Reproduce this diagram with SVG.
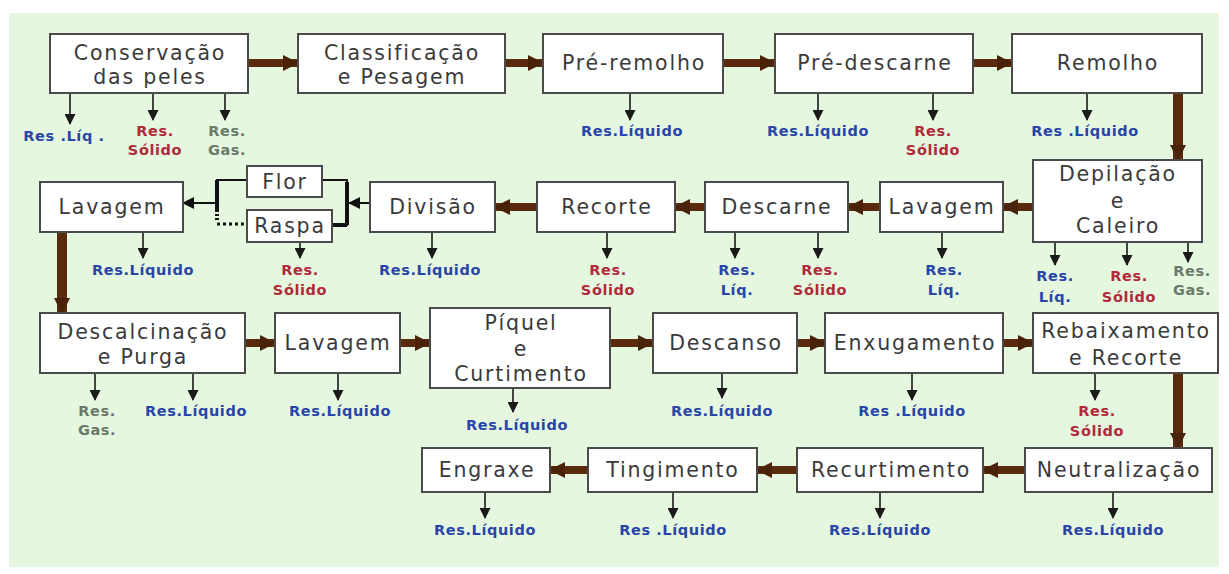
<svg xmlns="http://www.w3.org/2000/svg" width="1229" height="574" viewBox="0 0 1229 574">
<defs>
<marker id="sm" markerUnits="userSpaceOnUse" markerWidth="11" markerHeight="11" refX="10" refY="5.5" orient="auto"><path d="M0,0 L11,5.5 L0,11 z" fill="#1a1a1a"/></marker>
<marker id="br" markerUnits="userSpaceOnUse" markerWidth="16" markerHeight="16" refX="15" refY="8" orient="auto"><path d="M0,0 L16,8 L0,16 z" fill="#4a2208"/></marker>
<marker id="bk" markerUnits="userSpaceOnUse" markerWidth="12" markerHeight="12" refX="11" refY="6" orient="auto"><path d="M0,0 L12,6 L0,12 z" fill="#111"/></marker>
<style>
.box{fill:#fff;stroke:#4a4a4a;stroke-width:2}
.t{font-family:"DejaVu Sans",sans-serif;font-size:20.5px;fill:#3a3a3a;text-anchor:middle;letter-spacing:1.8px}
.lb{font-family:"DejaVu Sans",sans-serif;font-size:14.5px;font-weight:bold;text-anchor:middle;letter-spacing:0.6px}
.b{fill:#2a45a8}.r{fill:#b02a3a}.g{fill:#6a7a6a}
.flow{stroke:#5a2a0c;stroke-width:8;fill:none;marker-end:url(#br)}
.vflow{stroke:#5a2a0c;stroke-width:10;fill:none;marker-end:url(#br)}
.drop{stroke:#1a1a1a;stroke-width:1.6;fill:none;marker-end:url(#sm)}
.k{stroke:#111;stroke-width:2;fill:none}
</style>
</defs>
<rect x="9" y="13" width="1210" height="554" fill="#e5f7df"/>

<g id="connectors">
<line class="flow" x1="248" y1="63" x2="298" y2="63"/>
<line class="flow" x1="505" y1="63" x2="543" y2="63"/>
<line class="flow" x1="723" y1="63" x2="775" y2="63"/>
<line class="flow" x1="973" y1="63" x2="1012" y2="63"/>
<line class="vflow" x1="1178" y1="93" x2="1178" y2="160"/>
<line class="flow" x1="1033" y1="207" x2="1003" y2="207"/>
<line class="flow" x1="880" y1="207" x2="848" y2="207"/>
<line class="flow" x1="705" y1="207" x2="675" y2="207"/>
<line class="flow" x1="537" y1="207" x2="495" y2="207"/>
<line class="vflow" x1="62" y1="232" x2="62" y2="313"/>
<polyline class="k" points="322,180 347,180 347,225 332,225"/>
<line x1="347" y1="182" x2="347" y2="225" stroke="#111" stroke-width="4"/>
<line x1="332" y1="225" x2="347" y2="225" stroke="#111" stroke-width="4"/>
<line class="k" x1="370" y1="203" x2="349" y2="203" marker-end="url(#bk)"/>
<polyline class="k" points="247,180 217,180 217,212"/>
<line x1="217" y1="180" x2="217" y2="210" stroke="#111" stroke-width="4"/>
<line x1="217" y1="210" x2="217" y2="222" stroke="#111" stroke-width="4" stroke-dasharray="2,2"/>
<line x1="217" y1="224" x2="247" y2="224" stroke="#111" stroke-width="3" stroke-dasharray="3,3"/>
<line class="k" x1="215" y1="203" x2="183" y2="203" marker-end="url(#bk)"/>
<line class="flow" x1="245" y1="343" x2="275" y2="343"/>
<line class="flow" x1="400" y1="343" x2="430" y2="343"/>
<line class="flow" x1="610" y1="343" x2="653" y2="343"/>
<line class="flow" x1="797" y1="343" x2="825" y2="343"/>
<line class="flow" x1="1003" y1="343" x2="1033" y2="343"/>
<line class="vflow" x1="1178" y1="373" x2="1178" y2="448"/>
<line class="flow" x1="1025" y1="470" x2="983" y2="470"/>
<line class="flow" x1="797" y1="470" x2="757" y2="470"/>
<line class="flow" x1="588" y1="470" x2="550" y2="470"/>
<line class="drop" x1="70" y1="93" x2="70" y2="124"/>
<line class="drop" x1="153" y1="93" x2="153" y2="120"/>
<line class="drop" x1="225" y1="93" x2="225" y2="120"/>
<line class="drop" x1="630" y1="93" x2="630" y2="120"/>
<line class="drop" x1="818" y1="93" x2="818" y2="120"/>
<line class="drop" x1="933" y1="93" x2="933" y2="120"/>
<line class="drop" x1="1087" y1="93" x2="1087" y2="120"/>
<line class="drop" x1="143" y1="232" x2="143" y2="258"/>
<line class="drop" x1="300" y1="242" x2="300" y2="258"/>
<line class="drop" x1="432" y1="232" x2="432" y2="258"/>
<line class="drop" x1="607" y1="232" x2="607" y2="258"/>
<line class="drop" x1="735" y1="232" x2="735" y2="258"/>
<line class="drop" x1="818" y1="232" x2="818" y2="258"/>
<line class="drop" x1="942" y1="232" x2="942" y2="258"/>
<line class="drop" x1="1055" y1="242" x2="1055" y2="265"/>
<line class="drop" x1="1127" y1="242" x2="1127" y2="265"/>
<line class="drop" x1="1188" y1="242" x2="1188" y2="262"/>
<line class="drop" x1="95" y1="373" x2="95" y2="400"/>
<line class="drop" x1="193" y1="373" x2="193" y2="400"/>
<line class="drop" x1="338" y1="373" x2="338" y2="400"/>
<line class="drop" x1="513" y1="388" x2="513" y2="412"/>
<line class="drop" x1="722" y1="373" x2="722" y2="398"/>
<line class="drop" x1="912" y1="373" x2="912" y2="400"/>
<line class="drop" x1="1095" y1="373" x2="1095" y2="400"/>
<line class="drop" x1="485" y1="492" x2="485" y2="518"/>
<line class="drop" x1="673" y1="492" x2="673" y2="518"/>
<line class="drop" x1="880" y1="492" x2="880" y2="518"/>
<line class="drop" x1="1113" y1="492" x2="1113" y2="518"/>
</g>

<g id="n-conservacao"><rect class="box" x="50" y="34" width="198" height="59"/><text class="t" x="150" y="60">Conservação</text><text class="t" x="150" y="84">das peles</text>
<text class="lb b" x="64" y="141">Res .Líq .</text><text class="lb r" x="155" y="136">Res.</text><text class="lb r" x="155" y="155">Sólido</text><text class="lb g" x="227" y="136">Res.</text><text class="lb g" x="227" y="155">Gas.</text></g>
<g id="n-classificacao"><rect class="box" x="298" y="34" width="207" height="59"/><text class="t" x="402" y="60">Classificação</text><text class="t" x="402" y="84">e Pesagem</text></g>
<g id="n-preremolho"><rect class="box" x="543" y="34" width="180" height="59"/><text class="t" x="634" y="70">Pré-remolho</text><text class="lb b" x="632" y="136">Res.Líquido</text></g>
<g id="n-predescarne"><rect class="box" x="775" y="34" width="198" height="59"/><text class="t" x="875" y="70">Pré-descarne</text><text class="lb b" x="818" y="136">Res.Líquido</text><text class="lb r" x="933" y="136">Res.</text><text class="lb r" x="933" y="155">Sólido</text></g>
<g id="n-remolho"><rect class="box" x="1012" y="34" width="190" height="59"/><text class="t" x="1108" y="70">Remolho</text><text class="lb b" x="1085" y="136">Res .Líquido</text></g>

<g id="n-depilacao"><rect class="box" x="1033" y="160" width="169" height="82"/><text class="t" x="1118" y="181">Depilação</text><text class="t" x="1118" y="208">e</text><text class="t" x="1118" y="233">Caleiro</text>
<text class="lb b" x="1055" y="281">Res.</text><text class="lb b" x="1055" y="302">Líq.</text><text class="lb r" x="1129" y="281">Res.</text><text class="lb r" x="1129" y="302">Sólido</text><text class="lb g" x="1192" y="276">Res.</text><text class="lb g" x="1192" y="295">Gas.</text></g>
<g id="n-lavagem2"><rect class="box" x="880" y="182" width="123" height="50"/><text class="t" x="942" y="214">Lavagem</text><text class="lb b" x="944" y="275">Res.</text><text class="lb b" x="944" y="295">Líq.</text></g>
<g id="n-descarne"><rect class="box" x="705" y="182" width="143" height="50"/><text class="t" x="777" y="214">Descarne</text><text class="lb b" x="737" y="275">Res.</text><text class="lb b" x="737" y="295">Líq.</text><text class="lb r" x="820" y="275">Res.</text><text class="lb r" x="820" y="295">Sólido</text></g>
<g id="n-recorte"><rect class="box" x="537" y="182" width="138" height="50"/><text class="t" x="607" y="214">Recorte</text><text class="lb r" x="608" y="275">Res.</text><text class="lb r" x="608" y="295">Sólido</text></g>
<g id="n-divisao"><rect class="box" x="370" y="182" width="125" height="50"/><text class="t" x="433" y="214">Divisão</text><text class="lb b" x="430" y="275">Res.Líquido</text></g>
<g id="n-flor"><rect class="box" x="247" y="166" width="75" height="31"/><text class="t" x="285" y="189">Flor</text></g>
<g id="n-raspa"><rect class="box" x="247" y="210" width="85" height="32"/><text class="t" x="290" y="233">Raspa</text><text class="lb r" x="300" y="275">Res.</text><text class="lb r" x="300" y="295">Sólido</text></g>
<g id="n-lavagem1"><rect class="box" x="40" y="182" width="143" height="50"/><text class="t" x="112" y="214">Lavagem</text><text class="lb b" x="143" y="275">Res.Líquido</text></g>

<g id="n-descalcinacao"><rect class="box" x="40" y="313" width="205" height="60"/><text class="t" x="143" y="339">Descalcinação</text><text class="t" x="143" y="364">e Purga</text>
<text class="lb g" x="97" y="416">Res.</text><text class="lb g" x="97" y="435">Gas.</text><text class="lb b" x="196" y="416">Res.Líquido</text></g>
<g id="n-lavagem3"><rect class="box" x="275" y="313" width="125" height="60"/><text class="t" x="338" y="350">Lavagem</text><text class="lb b" x="340" y="416">Res.Líquido</text></g>
<g id="n-piquel"><rect class="box" x="430" y="308" width="180" height="80"/><text class="t" x="521" y="330">Píquel</text><text class="t" x="521" y="356">e</text><text class="t" x="521" y="381">Curtimento</text><text class="lb b" x="517" y="430">Res.Líquido</text></g>
<g id="n-descanso"><rect class="box" x="653" y="313" width="144" height="60"/><text class="t" x="726" y="350">Descanso</text><text class="lb b" x="722" y="416">Res.Líquido</text></g>
<g id="n-enxugamento"><rect class="box" x="825" y="313" width="178" height="60"/><text class="t" x="915" y="350">Enxugamento</text><text class="lb b" x="912" y="416">Res .Líquido</text></g>
<g id="n-rebaixamento"><rect class="box" x="1033" y="313" width="185" height="60"/><text class="t" x="1126" y="338">Rebaixamento</text><text class="t" x="1126" y="365">e Recorte</text><text class="lb r" x="1097" y="416">Res.</text><text class="lb r" x="1097" y="436">Sólido</text></g>

<g id="n-neutralizacao"><rect class="box" x="1025" y="448" width="187" height="44"/><text class="t" x="1119" y="477">Neutralização</text><text class="lb b" x="1113" y="535">Res.Líquido</text></g>
<g id="n-recurtimento"><rect class="box" x="797" y="448" width="186" height="44"/><text class="t" x="891" y="477">Recurtimento</text><text class="lb b" x="880" y="535">Res.Líquido</text></g>
<g id="n-tingimento"><rect class="box" x="588" y="448" width="169" height="44"/><text class="t" x="673" y="477">Tingimento</text><text class="lb b" x="673" y="535">Res .Líquido</text></g>
<g id="n-engraxe"><rect class="box" x="422" y="448" width="128" height="44"/><text class="t" x="487" y="477">Engraxe</text><text class="lb b" x="485" y="535">Res.Líquido</text></g>
</svg>
